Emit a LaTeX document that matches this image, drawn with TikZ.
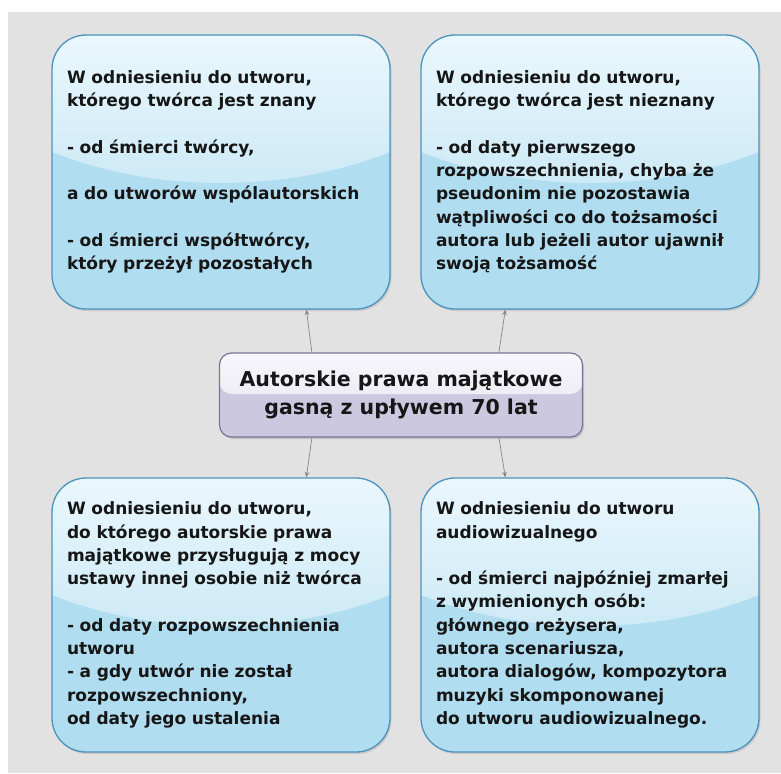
\documentclass[tikz,border=0pt]{standalone}
\usepackage{fontspec}
\setmainfont{DejaVu Sans}
\usetikzlibrary{calc,shadows,arrows.meta}

\definecolor{bggray}{HTML}{E2E2E2}
\definecolor{glosstop}{HTML}{EAF7FD}
\definecolor{glossbot}{HTML}{CDEAF6}
\definecolor{boxfill}{HTML}{B1DDF0}
\definecolor{boxedge}{HTML}{4A93BC}
\definecolor{ctrtop}{HTML}{F8F7FC}
\definecolor{ctrmid}{HTML}{E4E2EF}
\definecolor{ctrfill}{HTML}{CCC8E0}
\definecolor{ctredge}{HTML}{7A7599}
\definecolor{linkgray}{HTML}{868686}
\definecolor{txt}{HTML}{161616}

\tikzset{
  infobox/.style={draw=boxedge, line width=1.3pt, rounded corners=34pt, fill=boxfill,
    minimum width=338pt, minimum height=274pt, text width=308pt, inner xsep=15pt,
    align=left, font=\fontsize{17}{23.3}\selectfont\bfseries, text=txt,
    drop shadow={opacity=0.25, shadow xshift=1.5pt, shadow yshift=-2pt},
    path picture={
      \begin{scope}
        \clip ($(path picture bounding box.north)+(0,-72)$) ellipse [x radius=330pt, y radius=220pt];
        \fill[top color=glosstop, bottom color=glossbot] (path picture bounding box.north west)
          rectangle ($(path picture bounding box.north east)+(0,150)$);
      \end{scope}
    }},
  ctrbox/.style={draw=ctredge, line width=1.2pt, rounded corners=12pt, fill=ctrfill,
    minimum width=363pt, minimum height=84pt, align=center,
    font=\fontsize{20.5}{28}\selectfont\bfseries, text=txt,
    drop shadow={opacity=0.3, shadow xshift=1.5pt, shadow yshift=-2pt},
    path picture={
      \fill[top color=ctrtop, bottom color=ctrmid] (path picture bounding box.north west)
        rectangle ($(path picture bounding box.east)+(0,-1)$);
    }},
  linkarrow/.style={draw=linkgray, line width=0.7pt, -{Stealth[length=5.5pt,width=4.5pt]}}
}

\begin{document}
\begin{tikzpicture}[x=1pt, y=-1pt]

% Page and background
\useasboundingbox (0,0) rectangle (781,773);
\fill[white] (0,0) rectangle (781,773);
\fill[bggray] (8,12) rectangle (781,773);

% Four cases
\node[infobox] (known) at (221,172) {W odniesieniu do utworu,\\
którego twórca jest znany\\[23.3pt]
- od śmierci twórcy,\\[23.3pt]
a do utworów wspólautorskich\\[23.3pt]
- od śmierci współtwórcy,\\
który przeżył pozostałych};

\node[infobox] (unknown) at (590,172) {W odniesieniu do utworu,\\
którego twórca jest nieznany\\[23.3pt]
- od daty pierwszego\\
rozpowszechnienia, chyba że\\
pseudonim nie pozostawia\\
wątpliwości co do tożsamości\\
autora lub jeżeli autor ujawnił\\
swoją tożsamość};

\node[infobox] (statute) at (221,615) {W odniesieniu do utworu,\\
do którego autorskie prawa\\
majątkowe przysługują z mocy\\
ustawy innej osobie niż twórca\\[23.3pt]
- od daty rozpowszechnienia\\
utworu\\
- a gdy utwór nie został\\
rozpowszechniony,\\
od daty jego ustalenia};

\node[infobox] (audio) at (590,615) {W odniesieniu do utworu\\
audiowizualnego\\[23.3pt]
- od śmierci najpóźniej zmarłej\\
z wymienionych osób:\\
głównego reżysera,\\
autora scenariusza,\\
autora dialogów, kompozytora\\
muzyki skomponowanej\\
do utworu audiowizualnego.};

% Centre
\node[ctrbox] (rights) at (401,395) {Autorskie prawa majątkowe\\gasną z upływem 70 lat};

% Links
\draw[linkarrow] ([xshift=93pt]rights.north west) -- ([xshift=255pt]known.south west);
\draw[linkarrow] ([xshift=280pt]rights.north west) -- ([xshift=85pt]unknown.south west);
\draw[linkarrow] ([xshift=93pt]rights.south west) -- ([xshift=255pt]statute.north west);
\draw[linkarrow] ([xshift=280pt]rights.south west) -- ([xshift=85pt]audio.north west);

\end{tikzpicture}
\end{document}
